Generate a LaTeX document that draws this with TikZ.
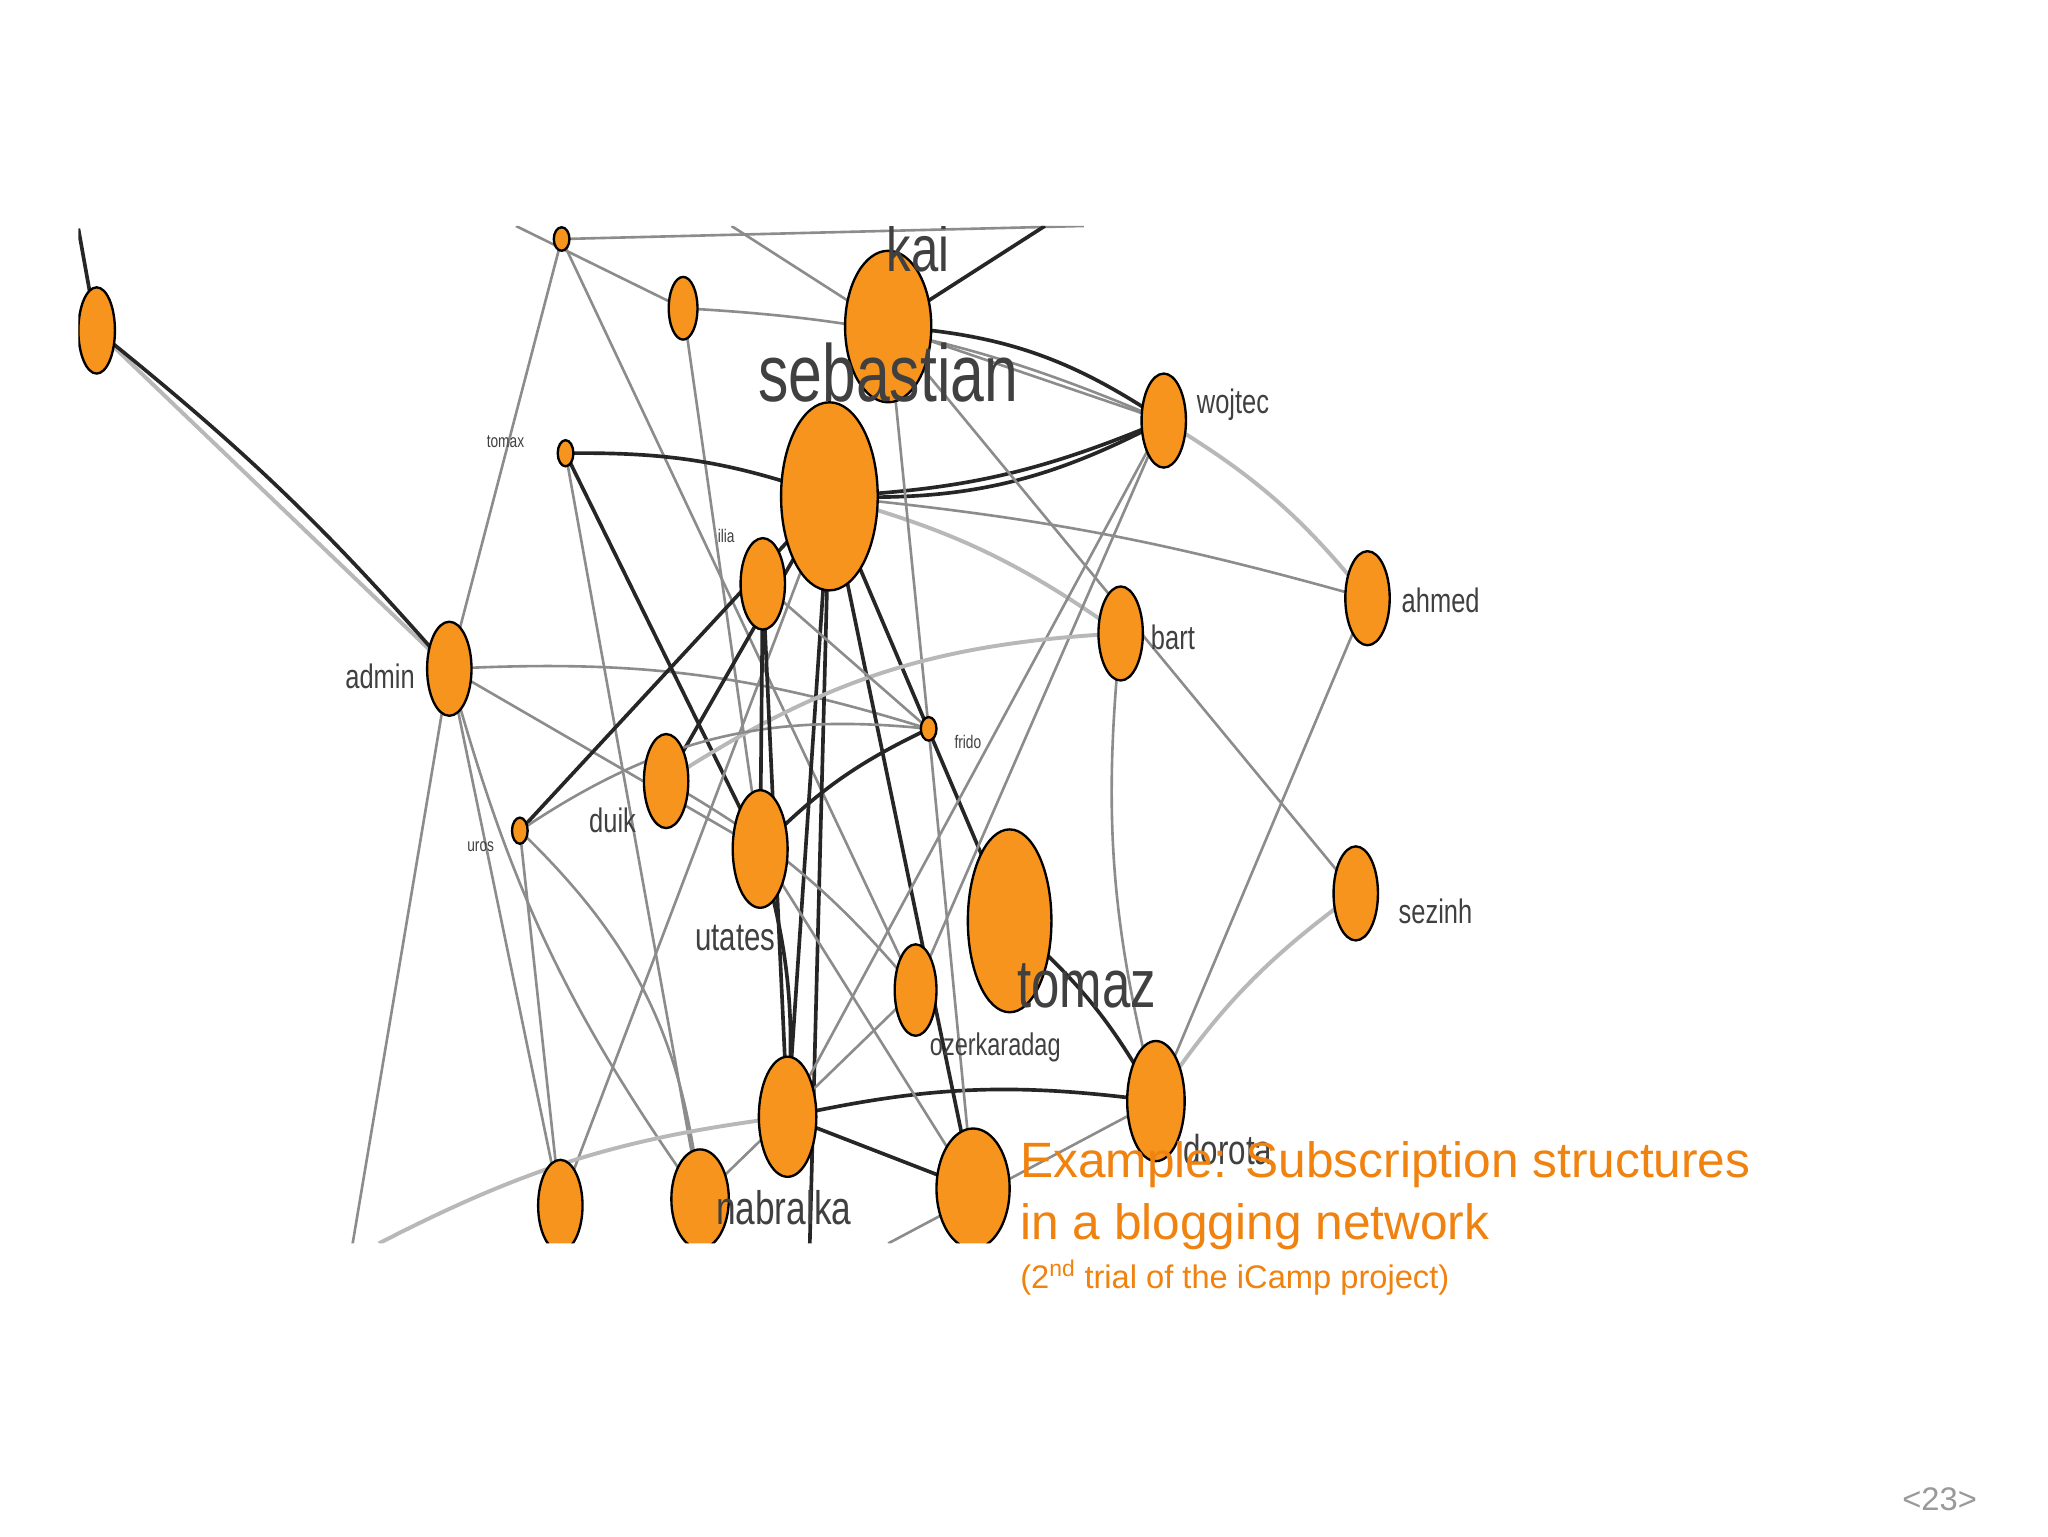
\documentclass[tikz,border=0pt]{standalone}
\usepackage{fontspec}
\setmainfont{Liberation Sans}
\usetikzlibrary{shapes.geometric}
\begin{document}
\begin{tikzpicture}[x=1pt,y=-1pt,
  nd/.style={draw=black,line width=1.8pt,fill=orng,ellipse,inner sep=0pt},
  lb/.style={text=black!75,inner sep=0pt,xscale=0.75},
  ge/.style={draw=black!45,line width=2pt},
  ge2/.style={draw=black!28,line width=3pt},
  de/.style={draw=black!85,line width=2.8pt}]
\definecolor{orng}{HTML}{F7941D}
\definecolor{capc}{HTML}{F0820F}
\useasboundingbox (0,0) rectangle (1568,1176);
\fill[white] (0,0) rectangle (1568,1176);
\begin{scope}
\clip (60,173) -- (830,173) -- (830,260) -- (1140,260) -- (1140,952) -- (60,952) -- cycle;
\def\E#1#2#3#4{\node[nd,minimum width=#3*2pt,minimum height=#4*2pt] (#1) at (#2) {};}
\coordinate (c1) at (60,175);
\coordinate (c2) at (395,173);
\coordinate (c3) at (830,173);
\coordinate (c4) at (800,173);
\coordinate (c5) at (270,952);
\coordinate (c6) at (290,952);
\coordinate (c7) at (620,952);
\coordinate (c8) at (680,952);
\coordinate (c9) at (560,173);
\path (74,253) coordinate (pA) (430,183) coordinate (pB) (523,236) coordinate (pC)
 (680,250) coordinate (pK) (635,380) coordinate (pS) (891,322) coordinate (pW)
 (433,347) coordinate (pT) (584,447) coordinate (pI) (1047,458) coordinate (pH)
 (858,485) coordinate (pBa) (344,512) coordinate (pAd) (711,558) coordinate (pF)
 (510,598) coordinate (pD) (398,636) coordinate (pU) (582,650) coordinate (pUt)
 (1038,684) coordinate (pZ) (773,705) coordinate (pTo) (701,758) coordinate (pO)
 (603,855) coordinate (pM) (885,843) coordinate (pDo) (429,923) coordinate (pL)
 (536,918) coordinate (pN) (745,910) coordinate (pR);
\draw[ge2] (pA) -- (pAd); \draw[de] (pA) to[bend left=5] (pAd);
\draw[ge] (pAd) -- (pB); \draw[ge] (pAd) -- (c5);
\draw[ge] (pAd) to[bend left=10] (pF); \draw[ge] (pAd) -- (pL);
\draw[ge] (pAd) to[bend right=10] (pN); \draw[ge] (pAd) -- (pUt);
\draw[ge] (pB) -- (pO); \draw[ge] (pB) -- (c3);
\draw[ge] (pC) -- (pUt); \draw[ge] (pC) to[bend left=10] (pW);
\draw[de] (pT) to[bend left=10] (pS); \draw[de] (pT) -- (pUt);
\draw[ge] (pT) -- (pN);
\draw[de] (pS) -- (pD); \draw[de] (pS) -- (pU);
\draw[de] (pS) -- (pM); \draw[de] (pS) -- (pR); \draw[de] (pS) -- (pTo);
\draw[de] (pS) -- (c7); \draw[de] (pS) to[bend right=10] (pW);
\draw[de] (pS) to[bend right=15] (pW);
\draw[ge2] (pS) to[bend left=10] (pBa); \draw[ge] (pS) -- (pL);
\draw[ge] (pS) to[bend left=5] (pH);
\draw[de] (pK) -- (c4); \draw[ge] (pK) -- (pW); \draw[ge] (pK) -- (c9);
\draw[de] (pK) to[bend left=15] (pW);
\draw[ge] (pK) -- (pZ); \draw[ge] (pK) -- (pF);
\draw[ge2] (pW) to[bend left=10] (pH);
\draw[ge] (pW) -- (pO); \draw[ge] (pW) -- (pM);
\draw[ge2] (pD) to[bend left=15] (pBa); \draw[de] (pUt) to[bend left=10] (pF);
\draw[ge] (pU) to[bend left=20] (pF); \draw[ge] (pU) to[bend left=20] (pN);
\draw[ge] (pU) -- (pL);
\draw[de] (pI) -- (pUt); \draw[de] (pI) -- (pM);
\draw[de] (pUt) to[bend left=10] (pM);
\draw[de] (pTo) to[bend left=10] (pDo); \draw[de] (pM) to[bend left=10] (pDo);
\draw[de] (pM) -- (pR); \draw[ge] (pH) -- (pDo); \draw[ge2] (pZ) to[bend right=10] (pDo);
\draw[ge] (pDo) -- (c8); \draw[ge2] (c6) to[bend left=10] (pM);
\draw[ge] (pF) -- (pR); \draw[ge] (pBa) to[bend right=10] (pDo);
\draw[ge] (pO) -- (pN); \draw[ge] (pD) to[bend left=10] (pO);
\draw[ge] (pI) -- (pF); \draw[ge] (pUt) -- (pR);
\draw[de] (pA) -- (c1); \draw[ge] (pC) -- (c2);
\E{A}{pA}{14}{33} \E{B}{pB}{6}{9} \E{C}{pC}{11}{24}
\E{K}{pK}{33}{58} \E{S}{pS}{37}{72} \E{W}{pW}{17}{36}
\E{T}{pT}{6}{10} \E{I}{pI}{17}{35} \E{H}{pH}{17}{36}
\E{Ba}{pBa}{17}{36} \E{Ad}{pAd}{17}{36} \E{F}{pF}{6}{9}
\E{D}{pD}{17}{36} \E{U}{pU}{6}{10} \E{Ut}{pUt}{21}{45}
\E{Z}{pZ}{17}{36} \E{To}{pTo}{32}{70} \E{O}{pO}{16}{35}
\E{M}{pM}{22}{46} \E{Do}{pDo}{22}{46} \E{L}{pL}{17}{35}
\E{N}{pN}{22}{38} \E{R}{pR}{28}{46}
\node[lb,font=\fontsize{50}{50}\selectfont] (lk) at (703,190) {kai};
\node[lb,font=\fontsize{62}{62}\selectfont] (ls) at (680,285) {sebastian};
\node[lb,font=\fontsize{26}{26}\selectfont] (lw) at (944,310) {wojtec};
\node[lb,font=\fontsize{26}{26}\selectfont] (lh) at (1103,460) {ahmed};
\node[lb,font=\fontsize{26}{26}\selectfont] (lba) at (898,488) {bart};
\node[lb,font=\fontsize{26}{26}\selectfont] (lad) at (291,518) {admin};
\node[lb,font=\fontsize{26}{26}\selectfont] (ld) at (469,628) {duik};
\node[lb,font=\fontsize{14}{14}\selectfont] (lu) at (368,648) {uros};
\node[lb,font=\fontsize{14}{14}\selectfont] (lt) at (387,338) {tomax};
\node[lb,font=\fontsize{14}{14}\selectfont] (lf) at (741,568) {frido};
\node[lb,font=\fontsize{14}{14}\selectfont] (li) at (556,410) {ilia};
\node[lb,font=\fontsize{30}{30}\selectfont] (lut) at (563,718) {utates};
\node[lb,font=\fontsize{26}{26}\selectfont] (lz) at (1099,698) {sezinh};
\node[lb,font=\fontsize{52}{52}\selectfont] (lto) at (832,755) {tomaz};
\node[lb,font=\fontsize{24}{24}\selectfont] (lo) at (762,802) {ozerkaradag};
\node[lb,font=\fontsize{32}{32}\selectfont] (ldo) at (940,880) {dorota};
\node[lb,font=\fontsize{36}{36}\selectfont] (ln) at (600,925) {nabralka};
\end{scope}
\node[anchor=west,text=capc,font=\fontsize{38}{38}\selectfont,inner sep=0pt] (t1) at (781,892) {Example: Subscription structures};
\node[anchor=west,text=capc,font=\fontsize{38}{38}\selectfont,inner sep=0pt] (t2) at (781,939) {in a blogging network};
\node[anchor=west,text=capc,font=\fontsize{25}{25}\selectfont,inner sep=0pt] (t3) at (781,978) {(2\textsuperscript{nd} trial of the iCamp project)};
\node[text=black!40,font=\fontsize{25}{25}\selectfont,inner sep=0pt] (pg) at (1485,1148) {<23>};
\end{tikzpicture}
\end{document}
